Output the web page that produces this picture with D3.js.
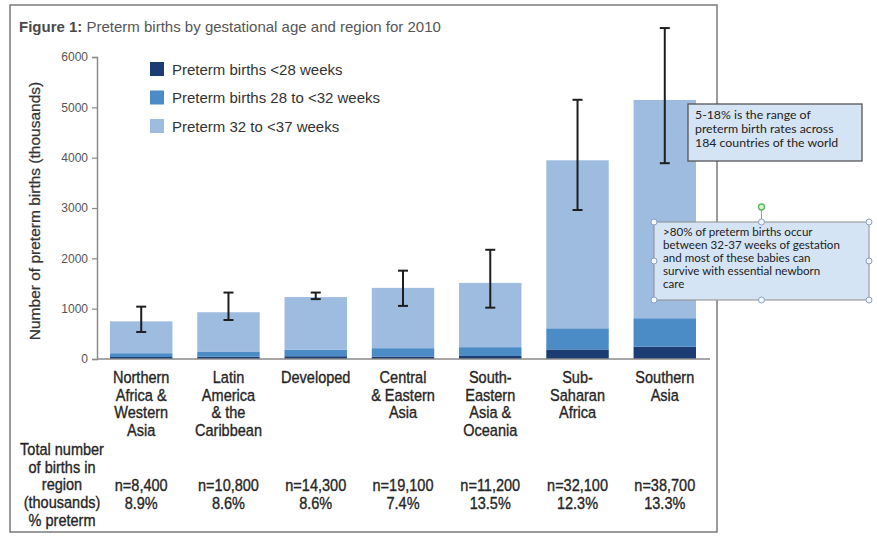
<!DOCTYPE html>
<html>
<head>
<meta charset="utf-8">
<script src="https://cdn.jsdelivr.net/npm/d3@7"></script>
<style>
  html, body { margin: 0; padding: 0; background: #fff; }
  svg { display: block; }
  .note { font-family: Lato, "Open Sans", sans-serif; }
</style>
</head>
<body>
<svg id="chart" width="877" height="536"></svg>
<script>
// Regions (multi-line labels)
const regions = [
  ["Northern", "Africa &", "Western", "Asia"],
  ["Latin", "America", "& the", "Caribbean"],
  ["Developed"],
  ["Central", "& Eastern", "Asia"],
  ["South-", "Eastern", "Asia &", "Oceania"],
  ["Sub-", "Saharan", "Africa"],
  ["Southern", "Asia"]
];
// Preterm births by gestational age (thousands)
const under28 = [40, 45, 55, 50, 60, 190, 245];
const w28to32 = [75, 95, 130, 165, 175, 420, 565];
const w32to37 = [633, 789, 1045, 1198, 1277, 3338, 4337];
// Uncertainty range of total preterm births (thousands)
const errLow  = [537, 775, 1190, 1055, 1020, 2960, 3890];
const errHigh = [1040, 1320, 1320, 1755, 2170, 5150, 6575];
// Total births in region (thousands) and % preterm
const totalBirths = [8400, 10800, 14300, 19100, 11200, 32100, 38700];
const pctPreterm = [8.9, 8.6, 8.6, 7.4, 13.5, 12.3, 13.3];
const yTicks = [0, 1000, 2000, 3000, 4000, 5000, 6000];
const seriesNames = ["Preterm births <28 weeks", "Preterm births 28 to <32 weeks", "Preterm 32 to <37 weeks"];
const seriesColors = ["#1c3d73", "#4b8bc6", "#9dbcdf"];

const svg = d3.select("#chart");
const keys = ["a", "b", "c"];
const rows = regions.map((r, i) => ({ i, a: under28[i], b: w28to32[i], c: w32to37[i] }));

const x = d3.scaleBand().domain(d3.range(regions.length)).range([110, 696]).paddingInner(0.2845).paddingOuter(0);
const y = d3.scaleLinear().domain([0, 6000]).range([359, 57]);

// Outer frame
svg.append("rect").attr("x", 10).attr("y", 5).attr("width", 707).attr("height", 527)
  .attr("fill", "#fff").attr("stroke", "#7a7a7a").attr("stroke-width", 1.5);

// Title
const title = svg.append("text").attr("x", 19).attr("y", 32)
  .attr("font-family", "Liberation Sans, Arial, sans-serif").attr("font-size", 15).attr("fill", "#555");
title.append("tspan").attr("font-weight", "bold").attr("fill", "#4a4a4a").text("Figure 1:");
title.append("tspan").text(" Preterm births by gestational age and region for 2010");

// Stacked bars
const stack = d3.stack().keys(keys)(rows);
svg.append("g").selectAll("g").data(stack).join("g")
  .attr("fill", (d, k) => seriesColors[k])
  .selectAll("rect").data(d => d).join("rect")
  .attr("x", d => x(d.data.i))
  .attr("width", x.bandwidth())
  .attr("y", d => y(d[1]))
  .attr("height", d => y(d[0]) - y(d[1]));

// Error bars
const eb = svg.append("g").attr("stroke", "#1e1e1e").attr("stroke-width", 2);
regions.forEach((r, i) => {
  const cx = x(i) + x.bandwidth() / 2;
  eb.append("line").attr("x1", cx).attr("x2", cx).attr("y1", y(errLow[i])).attr("y2", y(errHigh[i]));
  [errLow[i], errHigh[i]].forEach(v => {
    eb.append("line").attr("x1", cx - 5).attr("x2", cx + 5).attr("y1", y(v)).attr("y2", y(v));
  });
});

// Y axis
const yAxis = svg.append("g").attr("transform", "translate(97,0)")
  .call(d3.axisLeft(y).tickValues(yTicks).tickSize(5).tickPadding(4).tickFormat(d3.format("d")));
yAxis.select(".domain").attr("stroke", "#8a8a8a").attr("stroke-width", 1.5);
yAxis.selectAll(".tick line").attr("stroke", "#8a8a8a").attr("stroke-width", 1.2);
yAxis.selectAll(".tick text").attr("fill", "#555").attr("font-size", 12)
  .attr("font-family", "Liberation Sans, Arial, sans-serif");

// Baseline
svg.append("line").attr("x1", 97).attr("x2", 710).attr("y1", y(0)).attr("y2", y(0))
  .attr("stroke", "#8a8a8a").attr("stroke-width", 1.5);

// Y axis title
svg.append("text").attr("transform", `translate(40,${(y(0) + y(6000)) / 2 + 3}) rotate(-90)`)
  .attr("text-anchor", "middle").attr("font-family", "Liberation Sans, Arial, sans-serif")
  .attr("font-size", 15.5).attr("fill", "#333").attr("stroke", "#333").attr("stroke-width", 0.25)
  .text("Number of preterm births (thousands)");

// Legend
const legend = svg.append("g");
seriesNames.forEach((name, k) => {
  const ly = 69 + k * 28.5;
  legend.append("rect").attr("x", 150).attr("y", ly - 7).attr("width", 14).attr("height", 14).attr("fill", seriesColors[k]);
  legend.append("text").attr("x", 172).attr("y", ly + 5.5)
    .attr("font-family", "Liberation Sans, Arial, sans-serif").attr("font-size", 15).attr("fill", "#333").text(name);
});

// Category labels, drawn in a horizontally condensed sans
const catG = svg.append("g").attr("font-family", "Liberation Sans, Arial, sans-serif")
  .attr("font-size", 16.5).attr("fill", "#262626").attr("stroke", "#262626").attr("stroke-width", 0.35)
  .attr("text-anchor", "middle");
const condText = (tx, ty, s) =>
  catG.append("text").attr("transform", `translate(${tx},${ty}) scale(0.88,1)`).text(s);
regions.forEach((lines, i) => {
  const cx = x(i) + x.bandwidth() / 2;
  lines.forEach((ln, j) => condText(cx, 383 + j * 17.7, ln));
  condText(cx, 491, "n=" + d3.format(",")(totalBirths[i]));
  condText(cx, 509, pctPreterm[i].toFixed(1) + "%");
});
["Total number", "of births in", "region", "(thousands)", "% preterm"].forEach((ln, j) => {
  condText(62, 455 + j * 17.7, ln);
});

// Annotation: range of preterm birth rates
const n1 = svg.append("g").attr("class", "note");
n1.append("rect").attr("x", 688).attr("y", 104).attr("width", 174).attr("height", 57)
  .attr("fill", "#d5e4f4").attr("stroke", "#555").attr("stroke-width", 1.3);
["5-18% is the range of", "preterm birth rates across", "184 countries of the world"].forEach((ln, j) => {
  n1.append("text").attr("x", 695).attr("y", 119 + j * 14).attr("font-size", 12.3).attr("fill", "#222").text(ln);
});

// Annotation: share of moderate/late preterm births (selected text box)
const n2 = svg.append("g").attr("class", "note");
const bx = 654, by = 222, bw = 215, bh = 78;
n2.append("line").attr("x1", bx + bw / 2).attr("x2", bx + bw / 2).attr("y1", 207).attr("y2", by)
  .attr("stroke", "#8aa0b8").attr("stroke-width", 1);
n2.append("rect").attr("x", bx).attr("y", by).attr("width", bw).attr("height", bh)
  .attr("fill", "#d5e4f4").attr("stroke", "#8c8c8c").attr("stroke-width", 1);
[">80% of preterm births occur", "between 32-37 weeks of gestation", "and most of these babies can",
 "survive with essential newborn", "care"].forEach((ln, j) => {
  n2.append("text").attr("x", 663).attr("y", 236 + j * 13).attr("font-size", 11.6).attr("fill", "#222").text(ln);
});
const handles = [[0, 0], [0.5, 0], [1, 0], [0, 0.5], [1, 0.5], [0, 1], [0.5, 1], [1, 1]];
handles.forEach(([hx, hy]) => {
  n2.append("circle").attr("cx", bx + hx * bw).attr("cy", by + hy * bh).attr("r", 3)
    .attr("fill", "#f4f7fb").attr("stroke", "#8aa0c0").attr("stroke-width", 1);
});
n2.append("circle").attr("cx", bx + bw / 2).attr("cy", 207).attr("r", 3)
  .attr("fill", "#dff0d8").attr("stroke", "#5cb85c").attr("stroke-width", 1.3);
</script>
</body>
</html>
